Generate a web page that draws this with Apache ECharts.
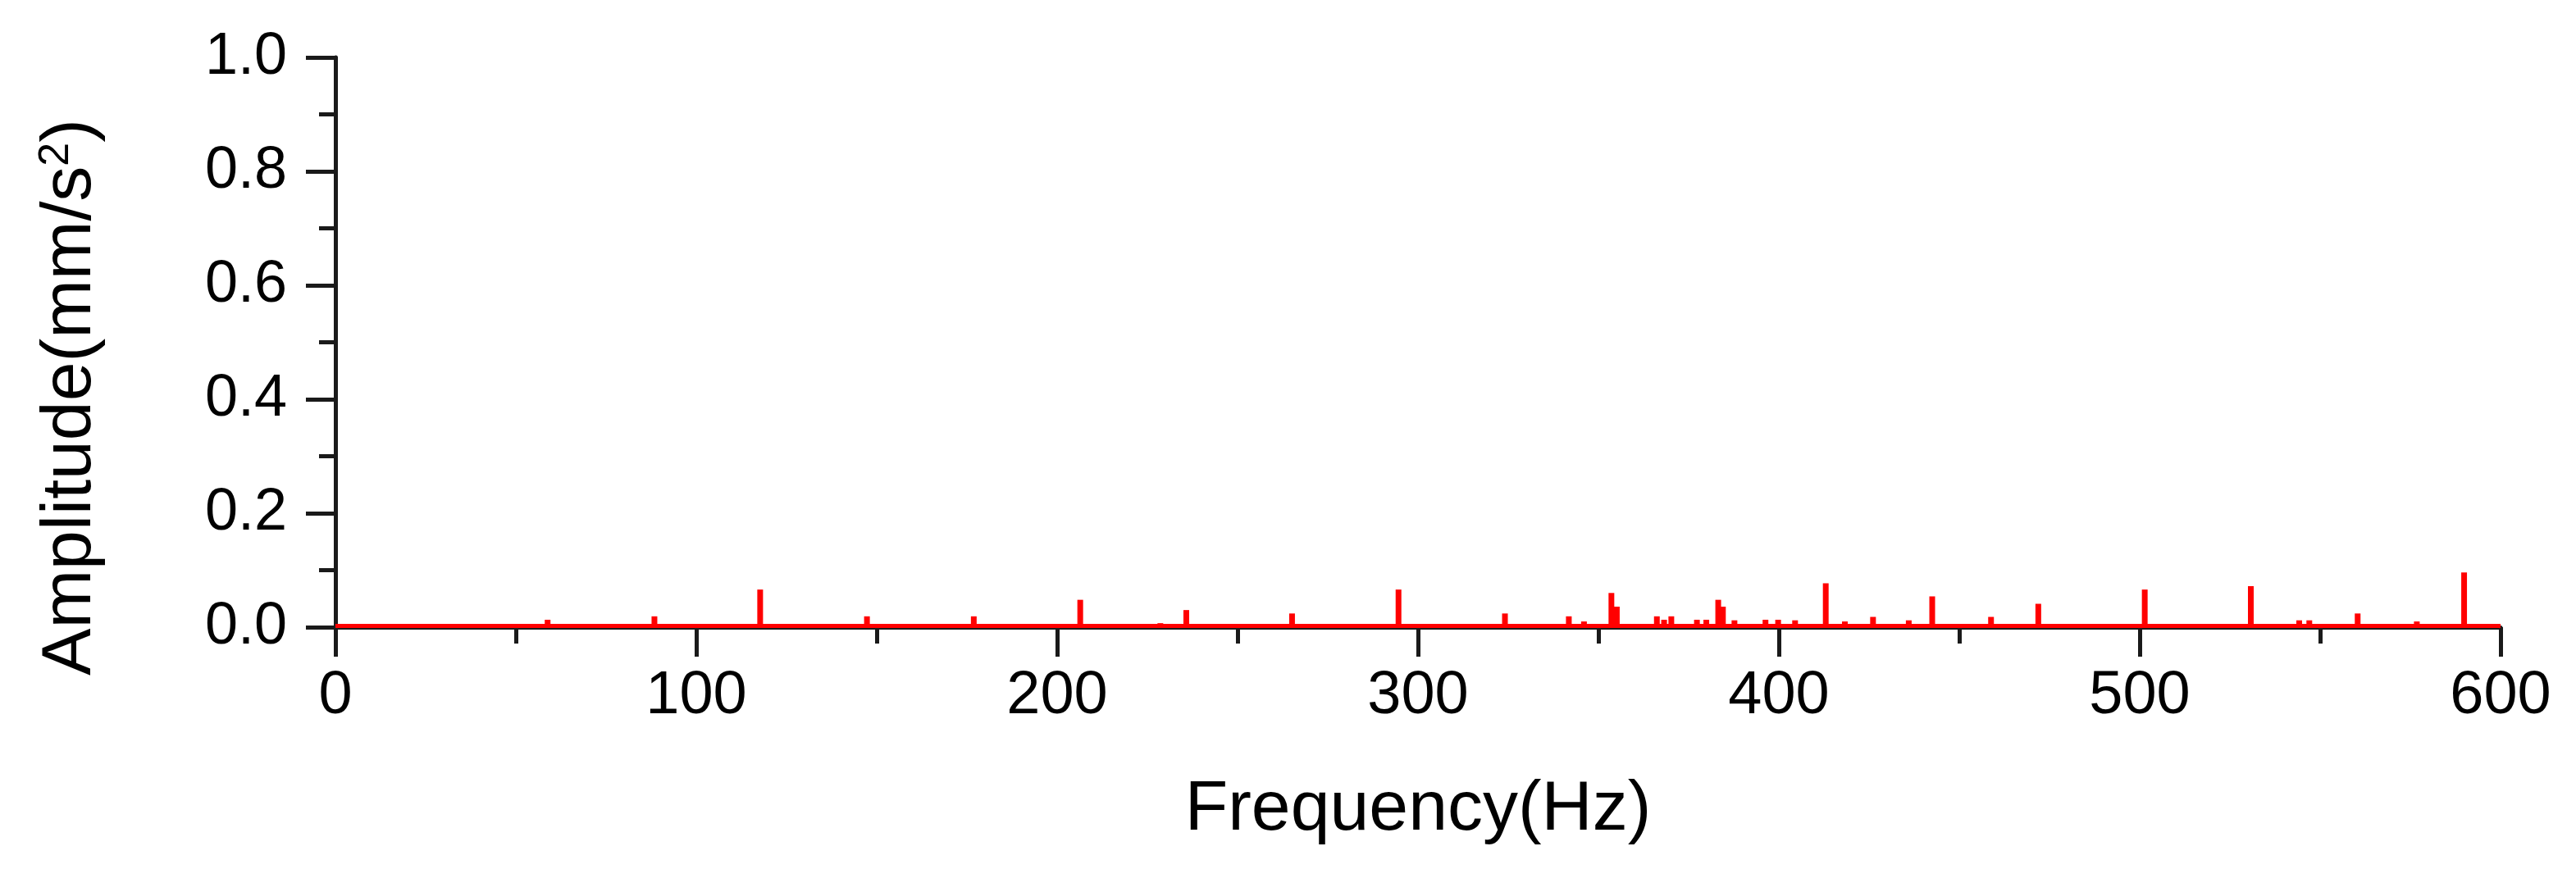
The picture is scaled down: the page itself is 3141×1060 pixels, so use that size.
<!DOCTYPE html>
<html>
	<head>
		<meta charset="utf-8" />
		<title>Frequency spectrum</title>
		<script type="text/javascript" src="https://cdn.jsdelivr.net/npm/echarts@6/dist/echarts.min.js"></script>
		<style type="text/css">
			html, body {
				margin: 0;
				padding: 0;
				background: #fff;
			}
			#main {
				width: 3141px;
				height: 1060px;
			}
		</style>
	</head>
	<body>
		<div id="main"></div>
		<script type="text/javascript">
			// spectral peaks (Hz, mm/s^2)
			var peakFreq = [29.3, 58.8, 88.4, 117.7, 147.3, 176.9, 206.4, 228.6, 235.8, 265.1,
				294.6, 324.1, 341.8, 346, 353.6, 355.1, 366.2, 368.2, 370.2, 377.3,
				379.9, 383.2, 384.5, 387.7, 396.3, 399.8, 404.5, 413, 418.3, 426.1,
				436, 442.5, 458.8, 471.9, 501.4, 530.8, 544.2, 547, 560.4, 576.8, 589.9];
			var peakAmp = [0.005, 0.013, 0.019, 0.066, 0.019, 0.019, 0.048, 0.007, 0.030, 0.024,
				0.066, 0.024, 0.019, 0.010, 0.060, 0.036, 0.019, 0.013, 0.019, 0.013,
				0.013, 0.048, 0.036, 0.012, 0.013, 0.013, 0.012, 0.077, 0.010, 0.018,
				0.012, 0.054, 0.018, 0.041, 0.066, 0.072, 0.012, 0.012, 0.024, 0.010, 0.096];

			// noise floor
			var floorFreq = [0, 100, 200, 300, 400, 500, 600];
			var floorAmp = [0.002, 0.002, 0.002, 0.002, 0.002, 0.002, 0.002];

			var xTicks = [0, 100, 200, 300, 400, 500, 600];
			var yTicks = [0.0, 0.2, 0.4, 0.6, 0.8, 1.0];

			var peaks = [];
			for (var i = 0; i < peakFreq.length; i++) {
				peaks.push([peakFreq[i], peakAmp[i]]);
			}
			var floor = [];
			for (var j = 0; j < floorFreq.length; j++) {
				floor.push([floorFreq[j], floorAmp[j]]);
			}

			var font = '"Liberation Sans", Arial, sans-serif';
			var axisColor = '#1a1a1a';

			var myChart = echarts.init(document.getElementById('main'));
			var option = {
				animation: false,
				backgroundColor: '#fff',
				grid: {
					left: 409,
					right: 92,
					top: 70,
					bottom: 295,
					containLabel: false
				},
				xAxis: {
					type: 'value',
					min: xTicks[0],
					max: xTicks[xTicks.length - 1],
					interval: 100,
					name: 'Frequency(Hz)',
					nameLocation: 'middle',
					nameGap: 180,
					nameTextStyle: {
						fontFamily: font,
						fontSize: 86,
						color: '#000'
					},
					axisLine: { lineStyle: { color: axisColor, width: 5 } },
					axisTick: { length: 36, lineStyle: { color: axisColor, width: 5 } },
					minorTick: { show: true, splitNumber: 2, length: 20, lineStyle: { color: axisColor, width: 5 } },
					splitLine: { show: false },
					axisLabel: {
						margin: 48,
						fontFamily: font,
						fontSize: 74,
						color: '#000'
					}
				},
				yAxis: {
					type: 'value',
					min: yTicks[0],
					max: yTicks[yTicks.length - 1],
					interval: 0.2,
					name: 'Amplitude(mm/s{sup|2})',
					nameLocation: 'middle',
					nameGap: 280,
					nameRotate: 90,
					nameTextStyle: {
						fontFamily: font,
						fontSize: 86,
						color: '#000',
						padding: [0, 134, 0, 0],
						rich: {
							sup: {
								fontFamily: font,
								fontSize: 52,
								color: '#000',
								padding: [0, 0, 34, 0]
							}
						}
					},
					axisLine: { show: true, lineStyle: { color: axisColor, width: 5 } },
					axisTick: { show: true, length: 36, lineStyle: { color: axisColor, width: 5 } },
					minorTick: { show: true, splitNumber: 2, length: 20, lineStyle: { color: axisColor, width: 5 } },
					splitLine: { show: false },
					axisLabel: {
						margin: 59,
						fontFamily: font,
						fontSize: 72,
						color: '#000',
						formatter: function (v) { return v.toFixed(1); }
					}
				},
				series: [{
						name: 'floor',
						type: 'line',
						data: floor,
						symbol: 'none',
						lineStyle: { color: '#ff0000', width: 5 },
						z: 3
					},
					{
						name: 'peaks',
						type: 'bar',
						data: peaks,
						barWidth: 7,
						itemStyle: { color: '#ff0000' },
						z: 4
					}
				]
			};
			myChart.setOption(option);
		</script>
	</body>
</html>
